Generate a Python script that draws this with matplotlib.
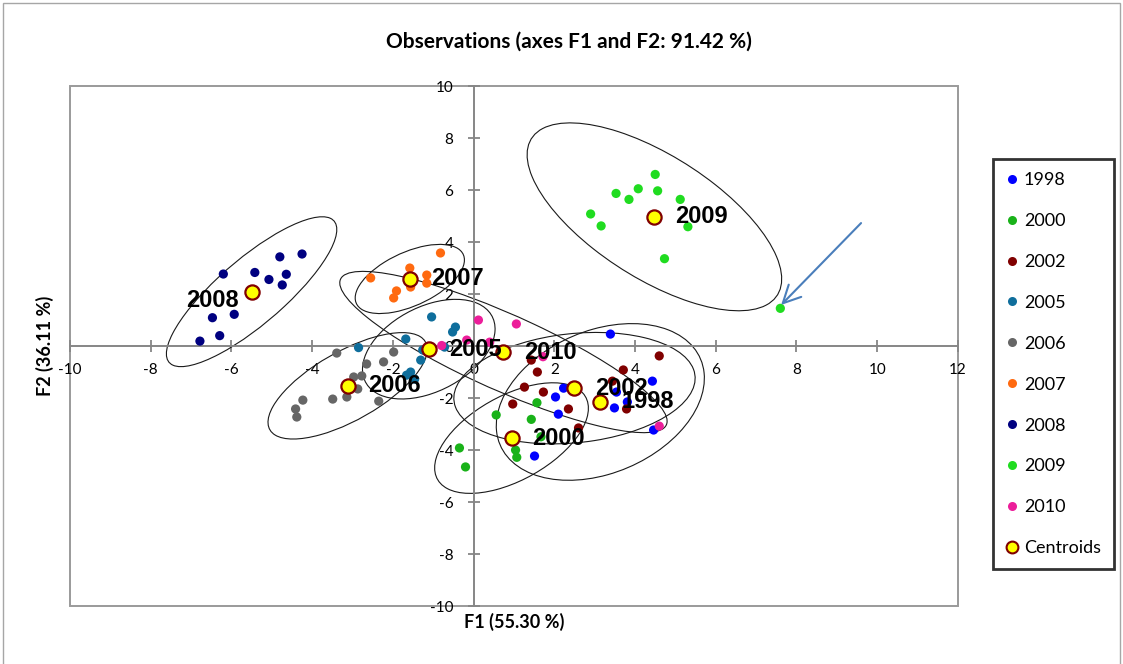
import numpy as np
import matplotlib
matplotlib.use("Agg")
import matplotlib.pyplot as plt
from matplotlib.patches import Ellipse, Rectangle
from matplotlib.lines import Line2D

plt.rcParams["axes.unicode_minus"] = False

# observation scores on F1 / F2, one group per year
years = ["1998", "2000", "2002", "2005", "2006", "2007", "2008", "2009", "2010"]

f1_1998 = [3.39, 4.43, 2.23, 2.03, 2.10, 3.49, 3.54, 3.81, 4.46, 1.51]
f2_1998 = [0.46, -1.35, -1.62, -1.96, -2.62, -2.38, -1.77, -2.15, -3.23, -4.23]

f1_2000 = [-0.35, -0.20, 0.56, 1.57, 1.43, 1.04, 1.07, 1.67]
f2_2000 = [-3.92, -4.65, -2.65, -2.18, -2.82, -4.00, -4.28, -3.49]

f1_2002 = [4.60, 3.71, 1.58, 1.26, 1.73, 0.97, 2.35, 2.60, 3.44, 3.79, 1.43]
f2_2002 = [-0.38, -0.92, -1.00, -1.58, -1.77, -2.23, -2.42, -3.15, -1.35, -2.42, -0.54]

f1_2005 = [-1.04, -0.45, -0.52, -1.68, -2.85, -0.72, -1.26, -1.31, -1.56, -1.66, -1.46]
f2_2005 = [1.12, 0.73, 0.54, 0.27, -0.06, -0.04, -0.15, -0.54, -1.00, -1.12, -1.27]

f1_2006 = [-3.39, -2.65, -2.23, -1.98, -2.77, -2.97, -2.87, -3.14, -3.49, -4.23, -4.41, -4.38, -2.35]
f2_2006 = [-0.27, -0.69, -0.61, -0.23, -1.15, -1.19, -1.65, -1.96, -2.04, -2.08, -2.42, -2.73, -2.12]

f1_2007 = [-0.82, -1.58, -2.55, -1.16, -1.16, -1.56, -1.91, -1.98]
f2_2007 = [3.58, 3.00, 2.62, 2.73, 2.42, 2.27, 2.12, 1.85]

f1_2008 = [-6.20, -5.42, -4.80, -4.25, -5.07, -4.64, -4.74, -6.47, -5.93, -6.29, -6.78]
f2_2008 = [2.77, 2.83, 3.43, 3.54, 2.56, 2.76, 2.35, 1.09, 1.22, 0.40, 0.19]

f1_2009 = [4.50, 4.08, 4.56, 3.53, 3.85, 5.12, 2.90, 3.16, 5.31, 4.73, 7.60]
f2_2009 = [6.60, 6.05, 5.97, 5.87, 5.64, 5.64, 5.08, 4.62, 4.59, 3.36, 1.45]

f1_2010 = [0.12, 1.06, -0.17, 0.40, -0.79, 0.82, 1.72, 4.60]
f2_2010 = [1.00, 0.85, 0.23, 0.15, 0.02, -0.27, -0.41, -3.08]

# class centroids
centroid_f1 = [3.14, 0.94, 2.50, -1.11, -3.12, -1.58, -5.50, 4.48, 0.74]
centroid_f2 = [-2.15, -3.54, -1.62, -0.12, -1.53, 2.58, 2.09, 4.97, -0.23]

# arrow pointing at the 2009 outlier
arrow_from = (9.60, 4.73)
arrow_to = (7.62, 1.58)

f1_all = [f1_1998, f1_2000, f1_2002, f1_2005, f1_2006, f1_2007, f1_2008, f1_2009, f1_2010]
f2_all = [f2_1998, f2_2000, f2_2002, f2_2005, f2_2006, f2_2007, f2_2008, f2_2009, f2_2010]

colors = ["#0000FF", "#19B219", "#800000", "#0F6E9C", "#666666",
          "#FF6A10", "#000080", "#20DC20", "#EC1E9A"]

ui_font = ["Lato", "DejaVu Sans"]
label_font = ["Liberation Sans", "DejaVu Sans"]

# 95 % confidence ellipse, chi-square with 2 dof
k95 = np.sqrt(-2.0 * np.log(0.05))

fig = plt.figure(figsize=(11.23, 6.64), dpi=100)
ax = fig.add_axes([0.0623, 0.0873, 0.7907, 0.7831])

for i in range(len(years)):
  x = np.array(f1_all[i])
  y = np.array(f2_all[i])
  ax.scatter(x, y, s=44, color=colors[i], edgecolors="none", zorder=3, label=years[i])

  cov = np.cov(x, y)
  vals, vecs = np.linalg.eigh(cov)
  order = vals.argsort()[::-1]
  vals = vals[order]
  vecs = vecs[:, order]
  angle = np.degrees(np.arctan2(vecs[1, 0], vecs[0, 0]))
  ell = Ellipse((centroid_f1[i], centroid_f2[i]),
                width=2 * k95 * np.sqrt(vals[0]),
                height=2 * k95 * np.sqrt(vals[1]),
                angle=angle, fill=False, edgecolor="#1a1a1a", lw=0.8, zorder=2)
  ax.add_patch(ell)

ax.scatter(centroid_f1, centroid_f2, s=105, color="#FFFF00", edgecolors="#800000",
           linewidths=1.6, zorder=4)

for i in range(len(years)):
  if years[i] == "2008":
    off, ha = (-9, -6), "right"
  else:
    off, ha = (15, 0), "left"
  ax.annotate(years[i], (centroid_f1[i], centroid_f2[i]), xytext=off,
              textcoords="offset points", ha=ha, va="center",
              fontsize=17, fontweight="bold", family=label_font, zorder=5)

ax.annotate("", xy=arrow_to, xytext=arrow_from,
            arrowprops=dict(arrowstyle="->,head_length=0.9,head_width=0.45",
                            color="#4A7EBB", lw=1.5, mutation_scale=14,
                            shrinkA=0, shrinkB=0), zorder=5)

ax.set_xlim(-10, 12)
ax.set_ylim(-10, 10)
ax.set_xticks(np.arange(-10, 13, 2))
ax.set_yticks(np.arange(-10, 11, 2))

# axes crossing at the origin, plot area boxed in grey
ax.spines["left"].set_position(("data", 0))
ax.spines["bottom"].set_position(("data", 0))
ax.spines["top"].set_visible(False)
ax.spines["right"].set_visible(False)
for s in ["left", "bottom"]:
  ax.spines[s].set_color("#868686")
  ax.spines[s].set_linewidth(1.4)
ax.add_patch(Rectangle((0, 0), 1, 1, transform=ax.transAxes, fill=False,
                       edgecolor="#9a9a9a", lw=1.4, clip_on=False, zorder=1))

ax.tick_params(direction="inout", length=9, width=1.3, color="#868686", labelsize=11)
ax.tick_params(axis="x", pad=8)
ax.tick_params(axis="y", pad=10)
for t in ax.get_xticklabels() + ax.get_yticklabels():
  t.set_family(ui_font)

ax.set_xlabel("F1 (55.30 %)", fontsize=13, fontweight="bold", family=ui_font)
ax.set_ylabel("F2 (36.11 %)", fontsize=13, fontweight="bold", family=ui_font)
ax.xaxis.set_label_coords(0.5, -0.013)
ax.yaxis.set_label_coords(-0.018, 0.5)

fig.text(0.507, 0.937, "Observations (axes F1 and F2: 91.42 %)", ha="center", va="center",
         fontsize=15, fontweight="bold", family=ui_font)

# legend
handles = [Line2D([], [], ls="none", marker="o", markersize=6.5, markerfacecolor=c,
                  markeredgecolor="none") for c in colors]
handles.append(Line2D([], [], ls="none", marker="o", markersize=8.5, markerfacecolor="#FFFF00",
                      markeredgecolor="#800000", markeredgewidth=1.5))
leg = fig.legend(handles, years + ["Centroids"], loc="upper left",
                 bbox_to_anchor=(0.8842, 0.7605), frameon=True, fancybox=False,
                 prop={"family": ui_font, "size": 13}, labelspacing=1.38,
                 handlelength=0.7, handletextpad=0.3, borderpad=0.72, borderaxespad=0)
leg.get_frame().set_edgecolor("black")
leg.get_frame().set_linewidth(2)

# outer chart border
fig.patches.append(Rectangle((3 / 1123, -0.01), 1117 / 1123, 1 - 3 / 664 + 0.01,
                             transform=fig.transFigure, fill=False,
                             edgecolor="#a6a6a6", lw=1))

fig.savefig("out.png", dpi=100)
